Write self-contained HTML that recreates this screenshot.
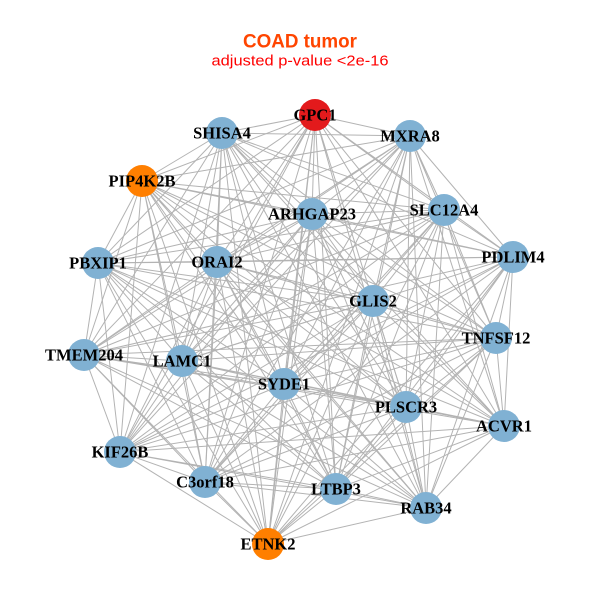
<!DOCTYPE html>
<html><head><meta charset="utf-8"><style>
html,body{margin:0;padding:0;background:#fff;}
svg{display:block;}
.e{fill:none;stroke:#b3b3b3;stroke-width:1;}
.l{font-family:"Liberation Serif",serif;font-weight:bold;font-size:16.5px;fill:#000;text-anchor:middle;}
</style></head><body>
<svg width="600" height="600" viewBox="0 0 600 600" xmlns="http://www.w3.org/2000/svg">
<rect width="600" height="600" fill="#fff"/>
<text x="300" y="47.5" text-anchor="middle" font-family="Liberation Sans, sans-serif" font-weight="bold" font-size="19" fill="#ff4500" textLength="114" lengthAdjust="spacingAndGlyphs">COAD tumor</text>
<text x="300" y="65.5" text-anchor="middle" font-family="Liberation Sans, sans-serif" font-size="15" fill="#ff0000" textLength="177" lengthAdjust="spacingAndGlyphs">adjusted p-value &lt;2e-16</text>
<g class="e">
<path d="M315 115L222 133M315 115L410 136M315 115L142 181M315 115L312 214M315 115L444 210M315 115L513 257M315 115L98 263M315 115L217 262M315 115L373 301M315 115L496 338M315 115L84 355M315 115L182 361M315 115L284 384M315 115L406 407M315 115L504 426M315 115L120 452M315 115L205 482M315 115L336 489M315 115L426 508M315 115L268 544"/>
<path d="M222 133L410 136M222 133L142 181M222 133L312 214M222 133L444 210M222 133L513 257M222 133L98 263M222 133L217 262M222 133L373 301M222 133L496 338M222 133L84 355M222 133L182 361M222 133L284 384M222 133L406 407M222 133L504 426M222 133L120 452M222 133L205 482M222 133L336 489M222 133L426 508M222 133L268 544"/>
<path d="M410 136L142 181M410 136L312 214M410 136L444 210M410 136L513 257M410 136L98 263M410 136L217 262M410 136L373 301M410 136L496 338M410 136L84 355M410 136L182 361M410 136L284 384M410 136L406 407M410 136L504 426M410 136L120 452M410 136L205 482M410 136L336 489M410 136L426 508M410 136L268 544"/>
<path d="M142 181L312 214M142 181L444 210M142 181L513 257M142 181L98 263M142 181L217 262M142 181L373 301M142 181L496 338M142 181L84 355M142 181L182 361M142 181L284 384M142 181L406 407M142 181L504 426M142 181L120 452M142 181L205 482M142 181L336 489M142 181L426 508M142 181L268 544"/>
<path d="M312 214L444 210M312 214L513 257M312 214L98 263M312 214L217 262M312 214L373 301M312 214L496 338M312 214L84 355M312 214L182 361M312 214L284 384M312 214L406 407M312 214L504 426M312 214L120 452M312 214L205 482M312 214L336 489M312 214L426 508M312 214L268 544"/>
<path d="M444 210L513 257M444 210L98 263M444 210L217 262M444 210L373 301M444 210L496 338M444 210L84 355M444 210L182 361M444 210L284 384M444 210L406 407M444 210L504 426M444 210L120 452M444 210L205 482M444 210L336 489M444 210L426 508M444 210L268 544"/>
<path d="M513 257L98 263M513 257L217 262M513 257L373 301M513 257L496 338M513 257L84 355M513 257L182 361M513 257L284 384M513 257L406 407M513 257L504 426M513 257L120 452M513 257L205 482M513 257L336 489M513 257L426 508M513 257L268 544"/>
<path d="M98 263L217 262M98 263L373 301M98 263L496 338M98 263L84 355M98 263L182 361M98 263L284 384M98 263L406 407M98 263L504 426M98 263L120 452M98 263L205 482M98 263L336 489M98 263L426 508M98 263L268 544"/>
<path d="M217 262L373 301M217 262L496 338M217 262L84 355M217 262L182 361M217 262L284 384M217 262L406 407M217 262L504 426M217 262L120 452M217 262L205 482M217 262L336 489M217 262L426 508M217 262L268 544"/>
<path d="M373 301L496 338M373 301L84 355M373 301L182 361M373 301L284 384M373 301L406 407M373 301L504 426M373 301L120 452M373 301L205 482M373 301L336 489M373 301L426 508M373 301L268 544"/>
<path d="M496 338L84 355M496 338L182 361M496 338L284 384M496 338L406 407M496 338L504 426M496 338L120 452M496 338L205 482M496 338L336 489M496 338L426 508M496 338L268 544"/>
<path d="M84 355L182 361M84 355L284 384M84 355L406 407M84 355L504 426M84 355L120 452M84 355L205 482M84 355L336 489M84 355L426 508M84 355L268 544"/>
<path d="M182 361L284 384M182 361L406 407M182 361L504 426M182 361L120 452M182 361L205 482M182 361L336 489M182 361L426 508M182 361L268 544"/>
<path d="M284 384L406 407M284 384L504 426M284 384L120 452M284 384L205 482M284 384L336 489M284 384L426 508M284 384L268 544"/>
<path d="M406 407L504 426M406 407L120 452M406 407L205 482M406 407L336 489M406 407L426 508M406 407L268 544"/>
<path d="M504 426L120 452M504 426L205 482M504 426L336 489M504 426L426 508M504 426L268 544"/>
<path d="M120 452L205 482M120 452L336 489M120 452L426 508M120 452L268 544"/>
<path d="M205 482L336 489M205 482L426 508M205 482L268 544"/>
<path d="M336 489L426 508M336 489L268 544"/>
<path d="M426 508L268 544"/>
</g>
<g fill="#80b1d3">
<circle cx="222" cy="133" r="16"/>
<circle cx="410" cy="136" r="16"/>
<circle cx="312" cy="214" r="16"/>
<circle cx="444" cy="210" r="16"/>
<circle cx="513" cy="257" r="16"/>
<circle cx="98" cy="263" r="16"/>
<circle cx="217" cy="262" r="16"/>
<circle cx="373" cy="301" r="16"/>
<circle cx="496" cy="338" r="16"/>
<circle cx="84" cy="355" r="16"/>
<circle cx="182" cy="361" r="16"/>
<circle cx="284" cy="384" r="16"/>
<circle cx="406" cy="407" r="16"/>
<circle cx="504" cy="426" r="16"/>
<circle cx="120" cy="452" r="16"/>
<circle cx="205" cy="482" r="16"/>
<circle cx="336" cy="489" r="16"/>
<circle cx="426" cy="508" r="16"/>
</g>
<circle cx="315" cy="115" r="16" fill="#e31a1c"/>
<circle cx="142" cy="181" r="16" fill="#ff7f00"/>
<circle cx="268" cy="544" r="16" fill="#ff7f00"/>
<g class="l">
<text x="315" y="120.5">GPC1</text>
<text x="222" y="138.5">SHISA4</text>
<text x="410" y="141.5">MXRA8</text>
<text x="142" y="186.5">PIP4K2B</text>
<text x="312" y="219.5">ARHGAP23</text>
<text x="444" y="215.5">SLC12A4</text>
<text x="513" y="262.5">PDLIM4</text>
<text x="98" y="268.5">PBXIP1</text>
<text x="217" y="267.5">ORAI2</text>
<text x="373" y="306.5">GLIS2</text>
<text x="496" y="343.5">TNFSF12</text>
<text x="84" y="360.5">TMEM204</text>
<text x="182" y="366.5">LAMC1</text>
<text x="284" y="389.5">SYDE1</text>
<text x="406" y="412.5">PLSCR3</text>
<text x="504" y="431.5">ACVR1</text>
<text x="120" y="457.5">KIF26B</text>
<text x="205" y="487.5">C3orf18</text>
<text x="336" y="494.5">LTBP3</text>
<text x="426" y="513.5">RAB34</text>
<text x="268" y="549.5">ETNK2</text>
</g>
</svg>
</body></html>
